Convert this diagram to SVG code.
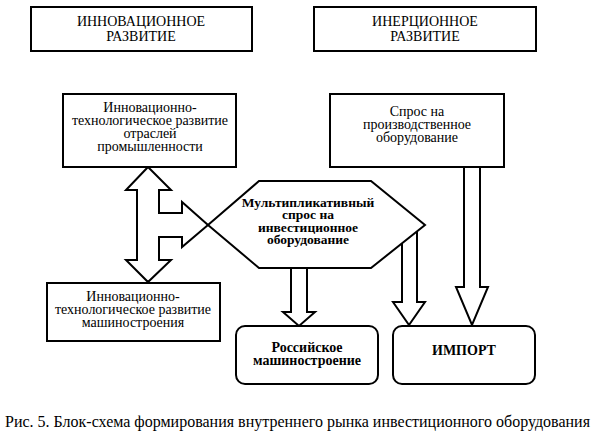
<svg xmlns="http://www.w3.org/2000/svg" width="595" height="443" viewBox="0 0 595 443" font-family="'Liberation Serif', 'Times New Roman', serif">
<style>
.box{fill:#fff;stroke:#000;stroke-width:2}
.arr{fill:#fff;stroke:#000;stroke-width:2;stroke-linejoin:miter}
text{font-family:'Liberation Serif', 'Times New Roman', serif;fill:#000;text-anchor:middle}
.t{font-size:14px}
.b{font-size:13.5px;font-weight:bold}
.bb{font-size:14px;font-weight:bold}
.cap{font-size:16px}
</style>
<rect width="595" height="443" fill="#fff"/>
<g id="connectors">
<polygon class="arr" points="148,167 171,190 159,190 159,213 182,213 182,202 208,225 182,247 182,237 159,237 159,260 171,260 148,282 126,260 137,260 137,190 126,190"/>
<polygon class="arr" points="291,262 291,312 283,312 299,326 315,312 307,312 307,262"/>
<polygon class="arr" points="402,236 402,302 393,302 409,325 425,302 417,302 417,222"/>
<polygon class="arr" points="464,160 464,287 456,287 472,325 488,287 480,287 480,160"/>
</g>
<g id="innov">
<rect class="box" x="31" y="7" width="221" height="44"/>
<text class="t" x="141" y="26">ИННОВАЦИОННОЕ</text>
<text class="t" x="141" y="41">РАЗВИТИЕ</text>
</g>
<g id="inerc">
<rect class="box" x="314" y="7" width="222" height="44"/>
<text class="t" x="425" y="26">ИНЕРЦИОННОЕ</text>
<text class="t" x="425" y="41">РАЗВИТИЕ</text>
</g>
<g id="otrasli">
<rect class="box" x="63" y="94" width="173" height="73"/>
<text class="t" x="150" y="112">Инновационно-</text>
<text class="t" x="150" y="125">технологическое развитие</text>
<text class="t" x="150" y="138">отраслей</text>
<text class="t" x="150" y="151">промышленности</text>
</g>
<g id="spros">
<rect class="box" x="330" y="94" width="174" height="73"/>
<text class="t" x="417" y="116">Спрос на</text>
<text class="t" x="417" y="129">производственное</text>
<text class="t" x="417" y="142">оборудование</text>
</g>
<g id="mash">
<rect class="box" x="47" y="283" width="173" height="58"/>
<text class="t" x="133" y="301">Инновационно-</text>
<text class="t" x="133" y="314">технологическое развитие</text>
<text class="t" x="133" y="327">машиностроения</text>
</g>
<g id="multi">
<polygon class="box" points="259,181 371,181 425,225 371,268 259,268 208,225"/>
<text class="b" x="308" y="207">Мультипликативный</text>
<text class="b" x="308" y="219">спрос на</text>
<text class="b" x="308" y="232">инвестиционное</text>
<text class="b" x="308" y="244">оборудование</text>
</g>
<g id="ros">
<rect class="box" x="236" y="326" width="142" height="58" rx="9"/>
<text class="bb" x="307" y="352">Российское</text>
<text class="bb" x="307" y="365">машиностроение</text>
</g>
<g id="import">
<rect class="box" x="393" y="326" width="142" height="58" rx="9"/>
<text class="bb" x="464" y="355">ИМПОРТ</text>
</g>
<text class="cap" x="297.5" y="427">Рис. 5. Блок-схема формирования внутреннего рынка инвестиционного оборудования</text>
</svg>
